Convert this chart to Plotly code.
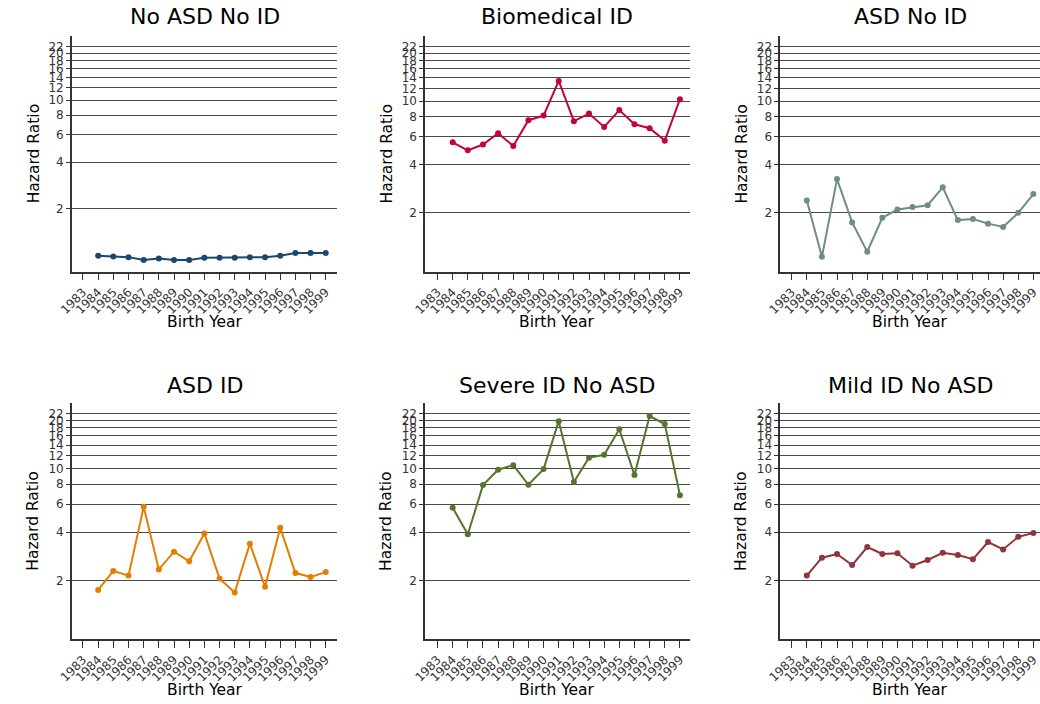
import math
import plotly.graph_objects as go

years = list(range(1983, 2000))
data_years = list(range(1984, 2000))
tick_vals_y = [2, 4, 6, 8, 10, 12, 14, 16, 18, 20, 22]

titles = ["No ASD No ID", "Biomedical ID", "ASD No ID", "ASD ID", "Severe ID No ASD", "Mild ID No ASD"]
no_asd_no_id = [1.00, 0.99, 0.98, 0.94, 0.96, 0.94, 0.94, 0.97, 0.97, 0.97, 0.98, 0.98, 1.00, 1.04, 1.04, 1.04]
biomedical_id = [5.53, 4.92, 5.35, 6.30, 5.24, 7.60, 8.12, 13.4, 7.49, 8.36, 6.90, 8.79, 7.17, 6.77, 5.66, 10.3]
asd_no_id = [2.39, 1.06, 3.25, 1.74, 1.14, 1.86, 2.10, 2.17, 2.23, 2.89, 1.80, 1.83, 1.71, 1.63, 2.00, 2.62]
asd_id = [1.74, 2.29, 2.14, 5.77, 2.34, 3.02, 2.63, 3.93, 2.05, 1.68, 3.39, 1.82, 4.26, 2.22, 2.10, 2.25]
severe_id_no_asd = [5.69, 3.88, 7.88, 9.83, 10.5, 7.92, 9.92, 19.8, 8.23, 11.7, 12.2, 17.6, 9.1, 21.3, 19.0, 6.82]
mild_id_no_asd = [2.14, 2.77, 2.92, 2.49, 3.23, 2.92, 2.95, 2.47, 2.68, 2.97, 2.88, 2.71, 3.47, 3.12, 3.74, 3.95]
series = [no_asd_no_id, biomedical_id, asd_no_id, asd_id, severe_id_no_asd, mild_id_no_asd]
colors = ["#1a476f", "#c10534", "#6e8e84", "#e37e00", "#55752f", "#90353b"]

W, H = 1040, 704
col_px = [(58.7, 327.7), (416.7, 685.0), (776.7, 1040.0)]
row_px = [(36.0, 271.7), (403.3, 639.3)]
x_ranges = [(1982.27, 1999.76), (1982.18, 1999.65), (1982.24, 1999.44)]
y_ranges = [(0.79, 25.8), (0.855, 25.6), (0.855, 25.6), (0.855, 25.6), (0.855, 25.6), (0.855, 25.6)]
title_y_px = [16.7, 385.0]
xlabel_y_px = [321.7, 690.0]
font = "DejaVu Sans"

fig = go.Figure()
annotations = []
for i in range(6):
    r, c = divmod(i, 3)
    n = i + 1
    xa = "x" if n == 1 else f"x{n}"
    ya = "y" if n == 1 else f"y{n}"
    fig.add_trace(go.Scatter(
        x=data_years, y=series[i], mode="lines+markers",
        line=dict(color=colors[i], width=2),
        marker=dict(color=colors[i], size=6),
        xaxis=xa, yaxis=ya, showlegend=False,
    ))
    x0, x1 = col_px[c]
    y0, y1 = row_px[r]
    fig.layout[f"xaxis{'' if n == 1 else n}"] = dict(
        domain=[x0 / W, x1 / W], anchor=ya, range=list(x_ranges[c]),
        tickmode="array", tickvals=years, ticktext=[str(v) for v in years],
        tickangle=-45, ticks="outside", ticklen=7, tickwidth=1.3, tickcolor="#333",
        showline=True, linecolor="#333", linewidth=1.5, showgrid=False, zeroline=False,
        tickfont=dict(family=font, size=12, color="#333"),
    )
    lo, hi = y_ranges[i]
    fig.layout[f"yaxis{'' if n == 1 else n}"] = dict(
        domain=[1 - y1 / H, 1 - y0 / H], anchor=xa, type="log",
        range=[math.log10(lo), math.log10(hi)],
        tickmode="array", tickvals=tick_vals_y, ticktext=[str(v) for v in tick_vals_y],
        ticks="outside", ticklen=4, tickwidth=1.3, tickcolor="#333",
        showline=True, linecolor="#333", linewidth=1.5,
        showgrid=True, gridcolor="#4a4a4a", gridwidth=1.4, zeroline=False,
        tickfont=dict(family=font, size=12, color="#333"),
    )
    cx = (x0 + x1) / 2 / W
    annotations.append(dict(text=titles[i], x=cx, y=1 - title_y_px[r] / H, xref="paper", yref="paper",
                            showarrow=False, xanchor="center", yanchor="middle",
                            font=dict(family=font, size=22, color="#000")))
    annotations.append(dict(text="Birth Year", x=cx, y=1 - xlabel_y_px[r] / H, xref="paper", yref="paper",
                            showarrow=False, xanchor="center", yanchor="middle",
                            font=dict(family=font, size=15.5, color="#000")))
    annotations.append(dict(text="Hazard Ratio", x=(x0 - 39) / W, y=1 - (y0 + y1) / 2 / H,
                            xref="paper", yref="paper", textangle=-90,
                            showarrow=False, xanchor="center", yanchor="middle",
                            font=dict(family=font, size=15.5, color="#000")))

fig.update_layout(
    width=W, height=H, margin=dict(l=0, r=0, t=0, b=0),
    paper_bgcolor="white", plot_bgcolor="white",
    annotations=annotations, font=dict(family=font),
)
fig.write_html("out.html")
